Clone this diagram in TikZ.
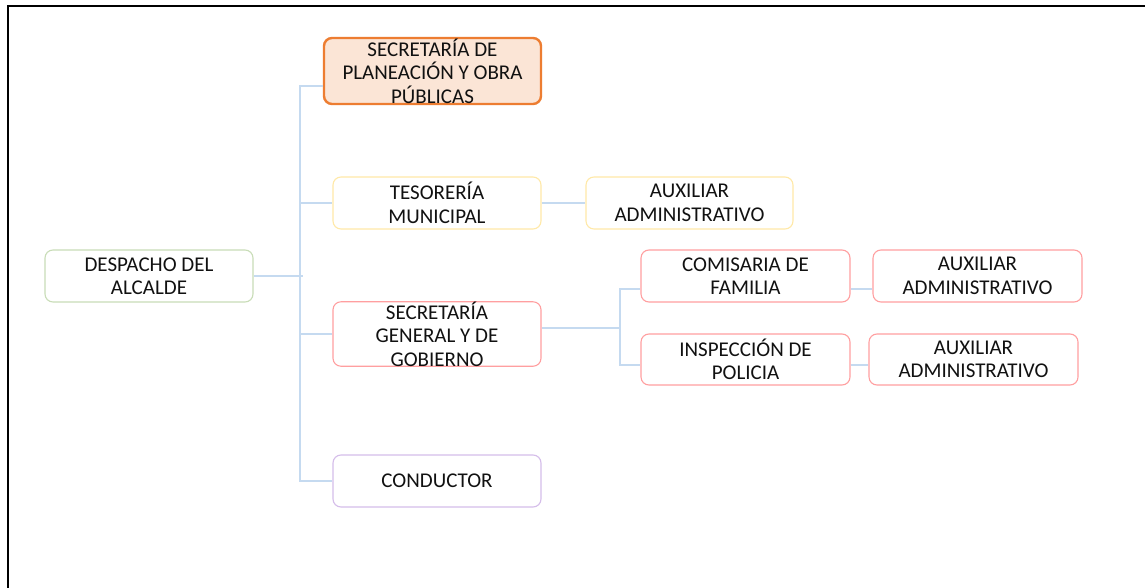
\documentclass[tikz,border=0pt]{standalone}
\usepackage{fontspec}
\setmainfont{Carlito}
\definecolor{conncol}{HTML}{C5DAF0}
\definecolor{greenb}{HTML}{C9DDB8}
\definecolor{orangeb}{HTML}{ED7D31}
\definecolor{orangef}{HTML}{FBE5D6}
\definecolor{yellowb}{HTML}{FFE9A8}
\definecolor{redb}{HTML}{FF9FA0}
\definecolor{purpleb}{HTML}{D5BDEA}
\definecolor{txt}{HTML}{111111}
\begin{document}
\begin{tikzpicture}[x=1pt,y=-1pt,
  box/.style={draw, rounded corners=8pt, line width=1.1pt, fill=white, align=center,
    inner sep=0pt, minimum width=208pt, minimum height=52pt, text=txt,
    font=\fontsize{21}{23.4}\selectfont},
  conn/.style={draw=conncol, line width=1.2pt}]
\useasboundingbox (0,0) rectangle (1145,588);
\fill[white] (0,0) rectangle (1145,588);
\draw[line width=2pt, black] (1145,6) -- (8,6) -- (8,588);

\coordinate (tj) at (300,276);
\coordinate (sj) at (620,328);

\node[box, draw=greenb] (desp) at (149,276) {DESPACHO DEL\\ALCALDE};
\node[box, draw=orangeb, fill=orangef, line width=2.4pt, minimum width=217pt, minimum height=66pt] (plan) at (432.5,71) {SECRETARÍA DE\\PLANEACIÓN Y OBRA\\PÚBLICAS};
\node[box, draw=yellowb] (tes) at (437,203) {TESORERÍA\\MUNICIPAL};
\node[box, draw=yellowb, minimum width=207pt] (aux1) at (689.5,203) {AUXILIAR\\ADMINISTRATIVO};
\node[box, draw=redb, minimum height=63pt] (sg) at (437,334) {SECRETARÍA\\GENERAL Y DE\\GOBIERNO};
\node[box, draw=redb, minimum width=209pt] (com) at (745.5,276) {COMISARIA DE\\FAMILIA};
\node[box, draw=redb, minimum width=209pt] (aux2) at (977.5,276) {AUXILIAR\\ADMINISTRATIVO};
\node[box, draw=redb, minimum width=209pt, minimum height=51pt] (insp) at (745.5,359.5) {INSPECCIÓN DE\\POLICIA};
\node[box, draw=redb, minimum width=209pt, minimum height=51pt] (aux3) at (973.5,359.5) {AUXILIAR\\ADMINISTRATIVO};
\node[box, draw=purpleb] (cond) at (437,481) {CONDUCTOR};

\draw[conn] (desp.east) -- ([xshift=3pt]tj);
\draw[conn] (tj) |- ([yshift=-15pt]plan.west);
\draw[conn] (tj) |- (tes.west);
\draw[conn] (tj) |- (sg.west);
\draw[conn] (tj) |- (cond.west);
\draw[conn] (tes.east) -- (aux1.west);
\draw[conn] ([yshift=6pt]sg.east) -- (sj);
\draw[conn] (sj) |- ([yshift=-13pt]com.west);
\draw[conn] (sj) |- ([yshift=-5.5pt]insp.west);
\draw[conn] ([yshift=-13pt]com.east) -- ([yshift=-13pt]aux2.west);
\draw[conn] ([yshift=-5.5pt]insp.east) -- ([yshift=-5.5pt]aux3.west);
\end{tikzpicture}
\end{document}
